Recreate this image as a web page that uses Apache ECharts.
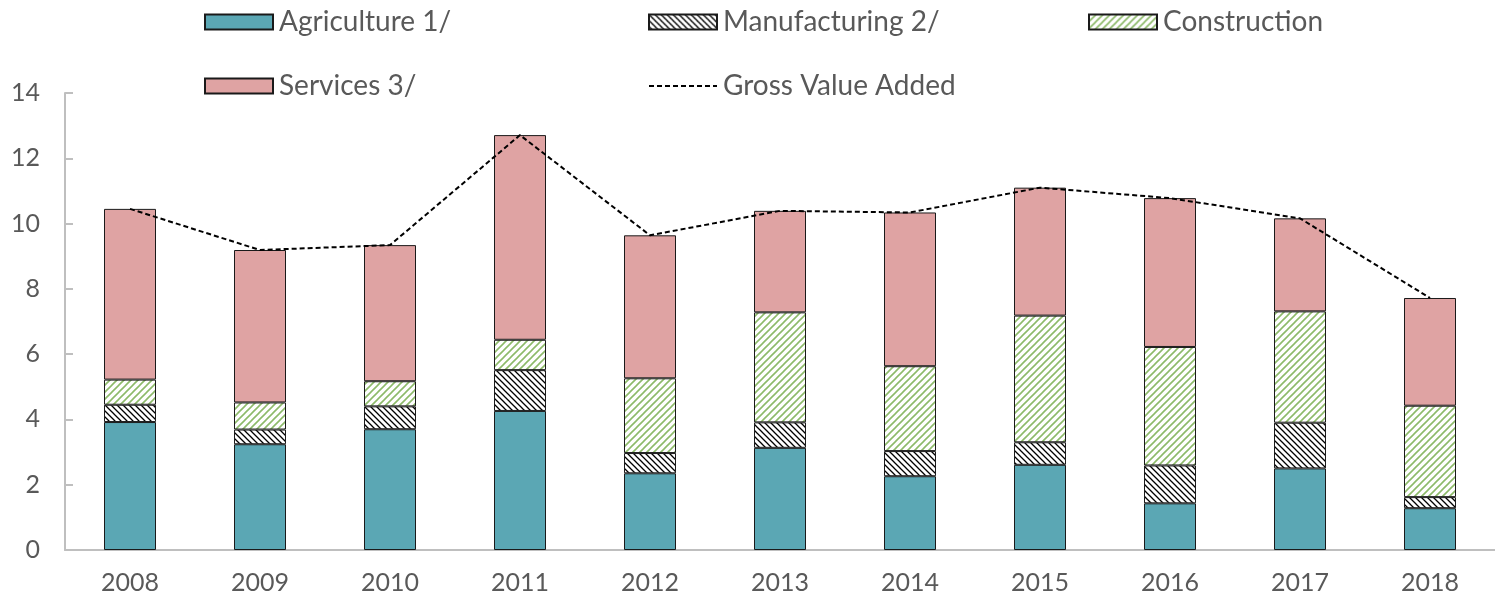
<!DOCTYPE html>
<html>
<head>
<meta charset="utf-8">
<script src="https://cdn.jsdelivr.net/npm/echarts@6/dist/echarts.min.js"></script>
<style>
  html, body { margin: 0; padding: 0; background: #fff; }
  #chart { width: 1495px; height: 597px; }
</style>
</head>
<body>
<div id="chart"></div>
<script>
var years = ['2008', '2009', '2010', '2011', '2012', '2013', '2014', '2015', '2016', '2017', '2018'];
var agriculture = [3.92, 3.24, 3.70, 4.26, 2.35, 3.13, 2.26, 2.61, 1.43, 2.50, 1.28];
var manufacturing = [0.53, 0.45, 0.70, 1.25, 0.62, 0.78, 0.77, 0.69, 1.16, 1.40, 0.34];
var construction = [0.77, 0.83, 0.77, 0.93, 2.29, 3.37, 2.60, 3.88, 3.63, 3.41, 2.80];
var services = [5.23, 4.67, 4.17, 6.27, 4.38, 3.11, 4.71, 3.92, 4.56, 2.85, 3.30];
var gva = [10.45, 9.19, 9.34, 12.71, 9.64, 10.39, 10.34, 11.10, 10.78, 10.16, 7.72];

// hatch fills
function hatch(color, back, dir, s, lw) {
  var c = document.createElement('canvas');
  c.width = s; c.height = s;
  var ctx = c.getContext('2d');
  ctx.fillStyle = back;
  ctx.fillRect(0, 0, s, s);
  ctx.strokeStyle = color;
  ctx.lineWidth = lw;
  ctx.beginPath();
  if (dir > 0) { // like "/"
    ctx.moveTo(-1, s + 1); ctx.lineTo(s + 1, -1);
    ctx.moveTo(-1, 1); ctx.lineTo(1, -1);
    ctx.moveTo(s - 1, s + 1); ctx.lineTo(s + 1, s - 1);
  } else { // like "\"
    ctx.moveTo(-1, -1); ctx.lineTo(s + 1, s + 1);
    ctx.moveTo(-1, s - 1); ctx.lineTo(1, s + 1);
    ctx.moveTo(s - 1, -1); ctx.lineTo(s + 1, 1);
  }
  ctx.stroke();
  return { image: c, repeat: 'repeat' };
}

var font = 'Lato, "DejaVu Sans", sans-serif';
var grey = '#595959';
var axisGrey = '#BFBFBF';

function legendAt(name, left, top, isLine) {
  var lg = {
    data: [name],
    left: left,
    top: top,
    icon: isLine ? undefined : 'rect',
    itemWidth: 68,
    itemHeight: 15,
    textStyle: { fontFamily: font, fontSize: 28, color: grey, padding: [0, 0, 0, 1] }
  };
  if (isLine) lg.itemStyle = { opacity: 0 };
  return lg;
}

function barSeries(name, data, fill) {
  return {
    name: name,
    type: 'bar',
    stack: 'gva',
    barWidth: '40%',
    data: data,
    itemStyle: { color: fill, borderColor: '#1a1a1a', borderWidth: 1 }
  };
}

var chart = echarts.init(document.getElementById('chart'));
var option = {
  animation: false,
  backgroundColor: '#fff',
  legend: [
    legendAt('Agriculture 1/', 199, 3),
    legendAt('Manufacturing 2/', 643, 3),
    legendAt('Construction', 1083, 3),
    legendAt('Services 3/', 199, 67),
    legendAt('Gross Value Added', 643, 67, true)
  ],
  grid: { left: 65, top: 93, width: 1435, bottom: 47 },
  xAxis: {
    type: 'category',
    data: years,
    axisLine: { lineStyle: { color: axisGrey, width: 2 } },
    axisTick: { inside: true, length: 8, lineStyle: { color: axisGrey, width: 2 } },
    axisLabel: { fontFamily: font, fontSize: 25, color: grey, margin: 20 }
  },
  yAxis: {
    type: 'value',
    min: 0,
    max: 14,
    interval: 2,
    splitLine: { show: false },
    axisLine: { show: true, lineStyle: { color: axisGrey, width: 2 } },
    axisTick: { show: true, inside: true, length: 8, lineStyle: { color: axisGrey, width: 2 } },
    axisLabel: { fontFamily: font, fontSize: 25, color: grey, margin: 25 }
  },
  series: [
    barSeries('Agriculture 1/', agriculture, '#5BA7B4'),
    barSeries('Manufacturing 2/', manufacturing, hatch('#000', '#fff', -1, 6, 1.3)),
    barSeries('Construction', construction, hatch('#8DBA6A', '#fff', 1, 7, 1.6)),
    barSeries('Services 3/', services, '#DFA3A3'),
    {
      name: 'Gross Value Added',
      type: 'line',
      data: gva,
      symbol: 'none',
      z: 5,
      lineStyle: { color: '#000', width: 2, type: [5, 3] },
      itemStyle: { color: '#000' }
    }
  ]
};
chart.setOption(option);
</script>
</body>
</html>
